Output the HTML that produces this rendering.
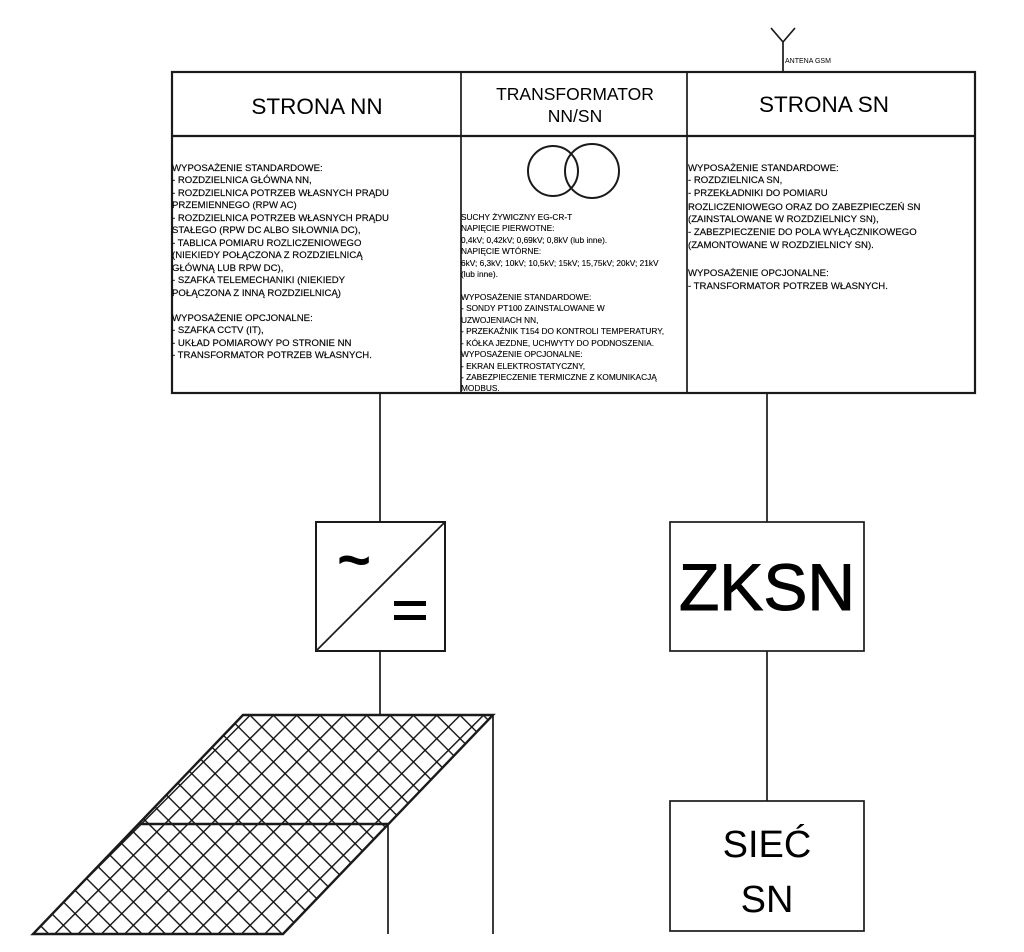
<!DOCTYPE html>
<html><head><meta charset="utf-8"><style>
html,body{margin:0;padding:0;background:#fff;}
svg{display:block;font-family:"Liberation Sans",sans-serif;}
</style></head><body>
<svg width="1024" height="952" viewBox="0 0 1024 952" xmlns="http://www.w3.org/2000/svg">
<defs>
<pattern id="hatch" width="16.5" height="16.5" patternUnits="userSpaceOnUse" patternTransform="rotate(45 243 715)">
<path d="M0 0H16.5M0 0V16.5" stroke="#111" stroke-width="2.8" fill="none"/>
</pattern>
</defs>
<g stroke="#1a1a1a" fill="none" stroke-width="1.7">
<path d="M771 28L783 42L795 28M783 42V72"/>
<rect x="172" y="72" width="803" height="321" stroke-width="2.2"/>
<line x1="172" y1="136" x2="975" y2="136" stroke-width="2.2"/>
<line x1="461" y1="72" x2="461" y2="393"/>
<line x1="687" y1="72" x2="687" y2="393"/>
<circle cx="553" cy="171" r="25" stroke-width="2"/>
<circle cx="592" cy="171" r="27" stroke-width="2"/>
<line x1="380" y1="393" x2="380" y2="522"/>
<line x1="380" y1="651" x2="380" y2="715"/>
<line x1="767" y1="393" x2="767" y2="522"/>
<line x1="767" y1="651" x2="767" y2="801"/>
<rect x="316" y="522" width="129" height="129" stroke-width="2"/>
<line x1="316" y1="651" x2="445" y2="522"/>
<rect x="670" y="522" width="194" height="129"/>
<rect x="670" y="801" width="194" height="130"/>
<polygon points="243,715 493,715 283,934 33,934" fill="url(#hatch)" stroke-width="2.4"/>
<line x1="139" y1="824" x2="388" y2="824" stroke-width="2.4"/>
<line x1="388" y1="824" x2="388" y2="934"/>
<line x1="493" y1="715" x2="493" y2="934"/>
</g>
<g fill="#000">
<text x="785" y="63" font-size="7">ANTENA GSM</text>
<text x="317" y="114" font-size="22.5" text-anchor="middle">STRONA NN</text>
<text x="575" y="100" font-size="17.5" text-anchor="middle">TRANSFORMATOR</text>
<text x="575" y="122" font-size="17.5" text-anchor="middle">NN/SN</text>
<text x="824" y="112" font-size="22.5" text-anchor="middle">STRONA SN</text>

<g font-size="9.6" stroke="#000" stroke-width="0.15">
<text x="172" y="171">WYPOSAŻENIE STANDARDOWE:</text>
<text x="172" y="183">- ROZDZIELNICA GŁÓWNA NN,</text>
<text x="172" y="196">- ROZDZIELNICA POTRZEB WŁASNYCH PRĄDU</text>
<text x="172" y="208">PRZEMIENNEGO (RPW AC)</text>
<text x="172" y="221">- ROZDZIELNICA POTRZEB WŁASNYCH PRĄDU</text>
<text x="172" y="233">STAŁEGO (RPW DC ALBO SIŁOWNIA DC),</text>
<text x="172" y="246">- TABLICA POMIARU ROZLICZENIOWEGO</text>
<text x="172" y="258">(NIEKIEDY POŁĄCZONA Z ROZDZIELNICĄ</text>
<text x="172" y="271">GŁÓWNĄ LUB RPW DC),</text>
<text x="172" y="283">- SZAFKA TELEMECHANIKI (NIEKIEDY</text>
<text x="172" y="296">POŁĄCZONA Z INNĄ ROZDZIELNICĄ)</text>
<text x="172" y="321">WYPOSAŻENIE OPCJONALNE:</text>
<text x="172" y="333">- SZAFKA CCTV (IT),</text>
<text x="172" y="346">- UKŁAD POMIAROWY PO STRONIE NN</text>
<text x="172" y="358">- TRANSFORMATOR POTRZEB WŁASNYCH.</text>

<text x="688" y="171">WYPOSAŻENIE STANDARDOWE:</text>
<text x="688" y="183">- ROZDZIELNICA SN,</text>
<text x="688" y="196">- PRZEKŁADNIKI DO POMIARU</text>
<text x="688" y="210">ROZLICZENIOWEGO ORAZ DO ZABEZPIECZEŃ SN</text>
<text x="688" y="222">(ZAINSTALOWANE W ROZDZIELNICY SN),</text>
<text x="688" y="235">- ZABEZPIECZENIE DO POLA WYŁĄCZNIKOWEGO</text>
<text x="688" y="248">(ZAMONTOWANE W ROZDZIELNICY SN).</text>
<text x="688" y="276">WYPOSAŻENIE OPCJONALNE:</text>
<text x="688" y="289">- TRANSFORMATOR POTRZEB WŁASNYCH.</text>
</g>

<g font-size="8.3" stroke="#000" stroke-width="0.12">
<text x="461" y="220">SUCHY ŻYWICZNY EG-CR-T</text>
<text x="461" y="231">NAPIĘCIE PIERWOTNE:</text>
<text x="461" y="243">0,4kV; 0,42kV; 0,69kV; 0,8kV  (lub inne).</text>
<text x="461" y="254">NAPIĘCIE WTÓRNE:</text>
<text x="461" y="266">6kV; 6,3kV; 10kV; 10,5kV; 15kV; 15,75kV; 20kV; 21kV</text>
<text x="461" y="277">(lub inne).</text>
<text x="461" y="300">WYPOSAŻENIE STANDARDOWE:</text>
<text x="461" y="311">- SONDY PT100 ZAINSTALOWANE W</text>
<text x="461" y="323">UZWOJENIACH NN,</text>
<text x="461" y="334">- PRZEKAŹNIK T154 DO KONTROLI TEMPERATURY,</text>
<text x="461" y="346">- KÓŁKA JEZDNE, UCHWYTY DO PODNOSZENIA.</text>
<text x="461" y="357">WYPOSAŻENIE OPCJONALNE:</text>
<text x="461" y="369">- EKRAN ELEKTROSTATYCZNY,</text>
<text x="461" y="380">- ZABEZPIECZENIE TERMICZNE Z KOMUNIKACJĄ</text>
<text x="461" y="391">MODBUS.</text>
</g>

<text x="354" y="580" font-size="58" font-weight="bold" text-anchor="middle">~</text>
<rect x="394" y="601" width="32" height="5"/>
<rect x="394" y="615" width="32" height="5"/>

<text x="767" y="610" font-size="66" text-anchor="middle" stroke="#000" stroke-width="1">ZKSN</text>
<text x="767" y="857" font-size="38" text-anchor="middle">SIEĆ</text>
<text x="767" y="912" font-size="38" text-anchor="middle">SN</text>
</g>
</svg>
</body></html>
